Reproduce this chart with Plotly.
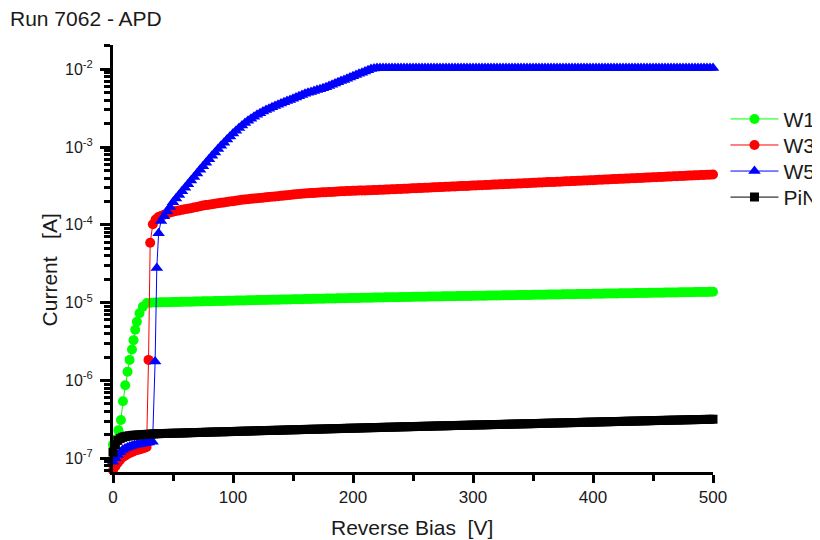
import plotly.graph_objects as go

# ---------------- data ----------------
# regular sweep part of the measurement (V): 40, 42.5, ... 500
BIAS_STEPS = [v / 2 for v in range(80, 1001, 5)]

# W1 (green) -- current in microamps
W1_LOW_V = [0, 2, 4.5, 6.6, 8.3, 10.2, 12.1, 13.8, 15.8, 17.1, 18.5, 19.9, 22.1, 24.9, 28.2, 31.5, 35, 37.5]
W1_LOW_uA = [0.15, 0.175, 0.23, 0.31, 0.54, 0.87, 1.3, 1.84, 2.5, 3.3, 4.5, 5.7, 7.3, 8.9, 9.9, 10.0, 10.05, 10.08]
W1_HIGH_uA = [
    10.10, 10.12, 10.14, 10.16, 10.18, 10.20, 10.22, 10.25, 10.27, 10.29,
    10.31, 10.33, 10.35, 10.38, 10.40, 10.42, 10.44, 10.46, 10.48, 10.51,
    10.53, 10.55, 10.57, 10.59, 10.61, 10.64, 10.66, 10.68, 10.70, 10.72,
    10.74, 10.77, 10.79, 10.81, 10.83, 10.85, 10.87, 10.90, 10.92, 10.94,
    10.96, 10.98, 11.00, 11.03, 11.05, 11.07, 11.09, 11.11, 11.13, 11.16,
    11.18, 11.20, 11.22, 11.24, 11.26, 11.29, 11.31, 11.33, 11.35, 11.37,
    11.39, 11.42, 11.44, 11.46, 11.48, 11.50, 11.52, 11.55, 11.57, 11.59,
    11.61, 11.63, 11.65, 11.67, 11.69, 11.71, 11.73, 11.75, 11.77, 11.79,
    11.80, 11.82, 11.84, 11.86, 11.88, 11.90, 11.91, 11.93, 11.95, 11.97,
    11.99, 12.01, 12.02, 12.04, 12.06, 12.08, 12.10, 12.12, 12.13, 12.15,
    12.17, 12.19, 12.21, 12.23, 12.24, 12.26, 12.28, 12.30, 12.32, 12.34,
    12.35, 12.37, 12.39, 12.41, 12.43, 12.45, 12.46, 12.48, 12.50, 12.52,
    12.54, 12.56, 12.57, 12.59, 12.61, 12.63, 12.65, 12.67, 12.68, 12.70,
    12.72, 12.74, 12.76, 12.78, 12.80, 12.82, 12.84, 12.86, 12.88, 12.90,
    12.92, 12.94, 12.96, 12.98, 13.00, 13.02, 13.04, 13.06, 13.08, 13.10,
    13.12, 13.14, 13.16, 13.18, 13.20, 13.22, 13.24, 13.26, 13.28, 13.30,
    13.32, 13.34, 13.36, 13.38, 13.40, 13.42, 13.44, 13.46, 13.48, 13.50,
    13.52, 13.54, 13.56, 13.58, 13.60, 13.62, 13.64, 13.66, 13.68, 13.70,
    13.72, 13.74, 13.76, 13.78, 13.80,
]

# W3 (red) -- current in microamps
W3_LOW_V = [0, 2, 4, 6, 8, 10, 12, 14, 16, 18, 20, 22, 24, 26, 28, 29.6, 31, 33.2, 35.5, 37.9]
W3_LOW_uA = [0.070, 0.079, 0.088, 0.096, 0.103, 0.108, 0.113, 0.117, 0.121, 0.125,
             0.128, 0.130, 0.133, 0.136, 0.140, 1.84, 59, 102, 117, 126]
W3_HIGH_uA = [
    130, 135, 140, 144, 148, 150.5, 153, 156, 159, 161.5,
    164, 167, 170, 173.5, 177, 179.5, 182, 184.5, 187, 189.5,
    192, 194.5, 197, 199.5, 202, 205, 208, 210, 212, 214,
    216, 218, 220, 222, 224, 226, 228, 230, 232, 234,
    236, 238, 240, 242.5, 245, 247, 249, 251.5, 254, 255,
    256, 257.5, 259, 260.5, 262, 263, 264, 265.5, 267, 268.5,
    270, 271, 272, 273, 274, 275, 276, 276.5, 277, 278,
    279, 280, 281, 282, 283, 284, 285, 286.5, 288, 289,
    290, 291, 292, 293.5, 295, 296, 297, 298.5, 300, 301,
    302, 303.5, 305, 306, 307, 308.5, 310, 311, 312, 313.5,
    315, 316, 317, 318.5, 320, 321.5, 323, 324, 325, 326.5,
    328, 329.5, 331, 332, 333, 334.5, 336, 337.5, 339, 340,
    341, 342.5, 344, 345.5, 347, 348.5, 350, 351.5, 353, 354.5,
    356, 357, 358, 359.5, 361, 362.5, 364, 365.5, 367, 368.5,
    370, 371.5, 373, 374.5, 376, 378, 380, 381.5, 383, 384.5,
    386, 387.5, 389, 390.5, 392, 393.5, 395, 397, 399, 400.5,
    402, 403.5, 405, 407, 409, 410.5, 412, 414, 416, 417.5,
    419, 421, 423, 424.5, 426, 428, 430, 431.5, 433, 435,
    437, 438.5, 440, 442, 444,
]

# W5 (blue) -- current in microamps
W5_LOW_V = [0, 2, 4, 6, 8, 10, 12, 14, 16, 18, 20, 22, 24, 26, 28, 30, 33, 35.1, 36.5, 38]
W5_LOW_uA = [0.090, 0.100, 0.110, 0.120, 0.128, 0.134, 0.138, 0.142, 0.145, 0.148,
             0.150, 0.152, 0.154, 0.156, 0.158, 0.160, 0.163, 1.75, 28, 78]
W5_HIGH_uA = [
    112, 129, 149, 170, 195, 218, 243, 270, 300, 334,
    372, 413, 459, 511, 569, 631, 700, 773, 853, 942,
    1040, 1140, 1250, 1365, 1490, 1625, 1760, 1900, 2040, 2180,
    2320, 2460, 2600, 2730, 2860, 2990, 3120, 3250, 3380, 3510,
    3640, 3770, 3900, 4040, 4190, 4340, 4500, 4660, 4830, 4975,
    5120, 5260, 5400, 5545, 5690, 5895, 6110, 6330, 6560, 6800,
    7050, 7305, 7570, 7845, 8130, 8425, 8730, 9050, 9380, 9735,
    10100, 10250, 10400, 10400, 10400, 10400, 10400, 10400, 10400, 10400,
    10400, 10400, 10400, 10400, 10400, 10400, 10400, 10400, 10400, 10400,
    10400, 10400, 10400, 10400, 10400, 10400, 10400, 10400, 10400, 10400,
    10400, 10400, 10400, 10400, 10400, 10400, 10400, 10400, 10400, 10400,
    10400, 10400, 10400, 10400, 10400, 10400, 10400, 10400, 10400, 10400,
    10400, 10400, 10400, 10400, 10400, 10400, 10400, 10400, 10400, 10400,
    10400, 10400, 10400, 10400, 10400, 10400, 10400, 10400, 10400, 10400,
    10400, 10400, 10400, 10400, 10400, 10400, 10400, 10400, 10400, 10400,
    10400, 10400, 10400, 10400, 10400, 10400, 10400, 10400, 10400, 10400,
    10400, 10400, 10400, 10400, 10400, 10400, 10400, 10400, 10400, 10400,
    10400, 10400, 10400, 10400, 10400, 10400, 10400, 10400, 10400, 10400,
    10400, 10400, 10400, 10400, 10400,
]

# PiN (black) -- current in nanoamps
PIN_LOW_V = [0, 2, 4, 6, 8, 10, 12, 14, 16, 18, 20, 22, 24, 26, 28, 30, 32, 34, 36, 38]
PIN_LOW_nA = [120, 150, 170, 180, 186, 190, 193, 195, 197, 198,
              199, 200, 201, 202, 203, 204, 205, 206, 207, 207.5]
PIN_HIGH_nA = [
    208, 208.5, 209, 209.5, 210, 210.5, 211, 211.5, 212, 212.8,
    213.5, 214, 214.5, 215, 215.5, 216.3, 217, 217.5, 218, 218.5,
    219, 219.5, 220, 220.5, 221, 221.8, 222.5, 223, 223.5, 224,
    224.5, 225.3, 226, 226.5, 227, 227.5, 228, 228.5, 229, 229.5,
    230, 230.8, 231.5, 232, 232.5, 233, 233.5, 234.3, 235, 235.5,
    236, 236.5, 237, 237.5, 238, 238.8, 239.5, 240, 240.5, 241,
    241.5, 242.3, 243, 243.5, 244, 244.5, 245, 245.8, 246.5, 247,
    247.5, 248, 248.5, 249.3, 250, 250.5, 251, 251.5, 252, 252.8,
    253.5, 254, 254.5, 255, 255.5, 256.3, 257, 257.5, 258, 258.5,
    259, 259.8, 260.5, 261, 261.5, 262, 262.5, 263.3, 264, 264.5,
    265, 265.5, 266, 266.8, 267.5, 268, 268.5, 269, 269.5, 270.3,
    271, 271.5, 272, 272.5, 273, 273.8, 274.5, 275, 275.5, 276.3,
    277, 277.5, 278, 278.5, 279, 279.8, 280.5, 281.3, 282, 282.5,
    283, 283.8, 284.5, 285, 285.5, 286.3, 287, 287.5, 288, 288.8,
    289.5, 290.3, 291, 291.5, 292, 292.8, 293.5, 294, 294.5, 295.3,
    296, 296.5, 297, 297.8, 298.5, 299.3, 300, 300.5, 301, 301.8,
    302.5, 303, 303.5, 304.3, 305, 305.8, 306.5, 307, 307.5, 308.3,
    309, 309.5, 310, 310.8, 311.5, 312.3, 313, 313.5, 314, 314.8,
    315.5, 316, 316.5, 317.3, 318,
]

SERIES_NAMES = ["W1", "W3", "W5", "PiN"]
X_TICK_VALUES = [0, 100, 200, 300, 400, 500]
X_MINOR_TICK_VALUES = [50, 150, 250, 350, 450]
Y_TICK_VALUES = [1e-7, 1e-6, 1e-5, 1e-4, 1e-3, 1e-2]
Y_TICK_LABELS = ["10<sup>-7</sup>", "10<sup>-6</sup>", "10<sup>-5</sup>",
                 "10<sup>-4</sup>", "10<sup>-3</sup>", "10<sup>-2</sup>"]

# ---------------- figure ----------------
def to_amps(values, unit):
    return [v * unit for v in values]

series = [
    (SERIES_NAMES[0], W1_LOW_V + BIAS_STEPS, to_amps(W1_LOW_uA + W1_HIGH_uA, 1e-6), "#00FF00", "circle", 10, "legend"),
    (SERIES_NAMES[1], W3_LOW_V + BIAS_STEPS, to_amps(W3_LOW_uA + W3_HIGH_uA, 1e-6), "#FF0000", "circle", 10, "legend2"),
    (SERIES_NAMES[2], W5_LOW_V + BIAS_STEPS, to_amps(W5_LOW_uA + W5_HIGH_uA, 1e-6), "#0000FF", "triangle-up", 11, "legend3"),
    (SERIES_NAMES[3], PIN_LOW_V + BIAS_STEPS, to_amps(PIN_LOW_nA + PIN_HIGH_nA, 1e-9), "#000000", "square", 9, "legend4"),
]

fig = go.Figure()
for name, xs, ys, color, symbol, size, leg in series:
    fig.add_trace(go.Scatter(
        x=xs, y=ys, name=name, mode="lines+markers", legend=leg,
        line=dict(color=color, width=1),
        marker=dict(symbol=symbol, size=size, color=color, line=dict(width=0)),
        cliponaxis=False,
    ))

FONT = "Liberation Sans, Arial, sans-serif"
minor_y = [k * 10.0 ** e for e in range(-8, -1) for k in range(2, 10)]


def legend_box(y_center):
    return dict(x=1.0208, xanchor="left", y=y_center, yanchor="middle",
                font=dict(size=21, color="#1a1a1a", family=FONT),
                bgcolor="rgba(0,0,0,0)", itemwidth=48, borderwidth=0)


# the page body adds an 8px offset, so the figure is 8px smaller than the window
fig.update_layout(
    width=812, height=532,
    margin=dict(l=104.7, r=106.5, t=37, b=68, autoexpand=False),
    paper_bgcolor="white", plot_bgcolor="white",
    font=dict(family=FONT, color="black"),
    title=dict(text="Run 7062 - APD", x=2 / 812, xref="container", xanchor="left",
               y=1 - 11 / 532, yref="container", yanchor="middle",
               font=dict(size=21, color="#1a1a1a", family=FONT)),
    showlegend=True,
    legend=legend_box(0.826),
    legend2=legend_box(0.765),
    legend3=legend_box(0.704),
    legend4=legend_box(0.643),
    xaxis=dict(range=[0, 500], showline=True, linecolor="black", linewidth=3,
               ticks="outside", ticklen=8, tickwidth=2.5, tickcolor="black",
               tickmode="array", tickvals=X_TICK_VALUES,
               tickfont=dict(size=17, color="#1a1a1a"),
               showgrid=False, zeroline=False,
               minor=dict(tickmode="array", tickvals=X_MINOR_TICK_VALUES, ticks="outside",
                          ticklen=6, tickwidth=2.5, tickcolor="black", showgrid=False)),
    yaxis=dict(type="log", range=[-7.176, -1.688], showline=True, linecolor="black", linewidth=3,
               ticks="outside", ticklen=10, tickwidth=2.5, tickcolor="black",
               tickmode="array", tickvals=Y_TICK_VALUES, ticktext=Y_TICK_LABELS,
               tickfont=dict(size=16, color="#1a1a1a"), ticklabelstandoff=4,
               showgrid=False, zeroline=False,
               minor=dict(tickmode="array", tickvals=minor_y, ticks="outside", ticklen=6,
                          tickwidth=2.5, tickcolor="black", showgrid=False)),
    annotations=[
        dict(text="Reverse Bias\u00a0\u00a0[V]", xref="paper", yref="paper",
             x=0.498, y=-0.131, xanchor="center", yanchor="middle", showarrow=False,
             font=dict(size=21, color="#1a1a1a", family=FONT)),
        dict(text="Current\u00a0\u00a0\u00a0[A]", xref="paper", yref="paper",
             x=-0.106, y=0.473, xanchor="center", yanchor="middle", showarrow=False,
             textangle=-90, font=dict(size=21, color="#1a1a1a", family=FONT)),
    ],
)

fig.write_html("out.html")
